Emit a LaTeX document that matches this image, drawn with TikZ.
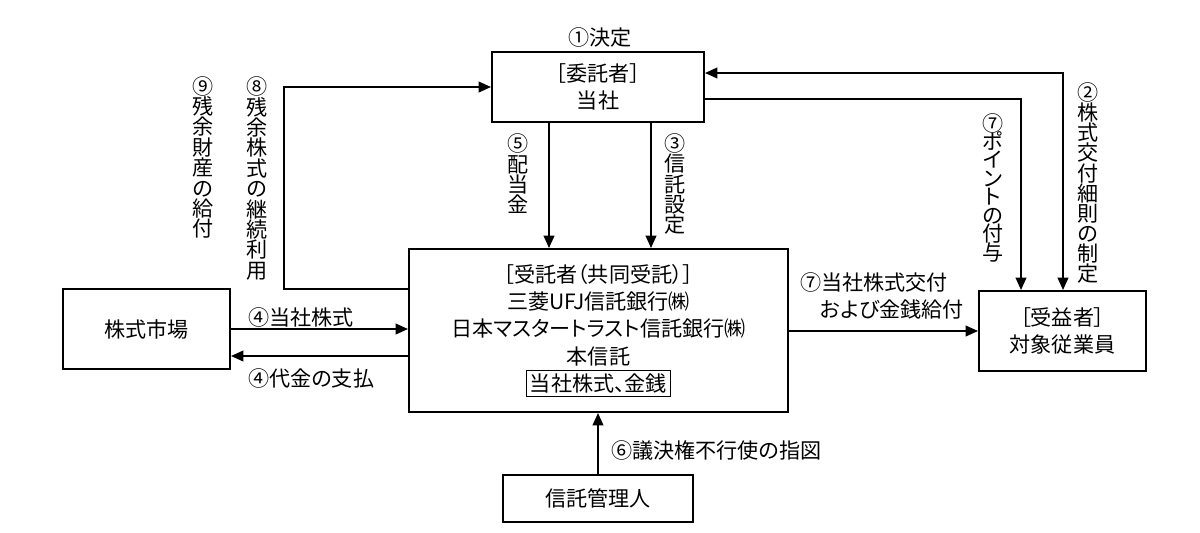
\documentclass[tikz,border=0pt]{standalone}
\usepackage{fontspec}
\setmainfont{Noto Sans CJK JP}[RawFeature=+palt]
\usetikzlibrary{arrows.meta, calc, positioning}
\newcommand{\pxu}{0.02cm}
\setlength{\fboxsep}{1.5pt}
\setlength{\fboxrule}{0.6pt}
\setlength{\lineskiplimit}{-20pt}
\tikzset{
  box/.style={draw, line width=1.1pt, rectangle, align=center, inner sep=0pt,
    font=\fontsize{12pt}{15.6pt}\selectfont},
  arr/.style={line width=1.1pt, -{Triangle[length=7pt, width=6pt]}},
  arrboth/.style={line width=1.1pt, {Triangle[length=7pt, width=6pt]}-{Triangle[length=7pt, width=6pt]}},
  lbl/.style={inner sep=0pt, font=\fontsize{12pt}{15.3pt}\selectfont},
  vlbl/.style={inner sep=0pt, align=center, font=\fontsize{12pt}{11.6pt}\selectfont},
}

\begin{document}
\begin{tikzpicture}[x=0.02cm, y=-0.02cm]
  \useasboundingbox (0,0) rectangle (1200,532);
  \node[box, minimum width=212*\pxu, minimum height=70*\pxu] (itaku) at (598,87) {［委託者］\\当社};
  \node[box, minimum width=379*\pxu, minimum height=163*\pxu] (jutaku) at (598.5,330.5) {［受託者（共同受託）］\\三菱UFJ信託銀行㈱\\日本マスタートラスト信託銀行㈱\\本信託\\\fbox{当社株式、金銭}};
  \node[box, minimum width=167*\pxu, minimum height=80*\pxu] (shijo) at (146.5,329) {株式市場};
  \node[box, minimum width=167*\pxu, minimum height=80*\pxu] (jueki) at (1062.5,331) {［受益者］\\対象従業員};
  \node[box, minimum width=190*\pxu, minimum height=47*\pxu] (kanri) at (598,498.5) {信託管理人};

  \node[lbl] (l1) at (600,37) {①決定};
  \node[lbl, anchor=west] (l4a) at (248,317) {④当社株式};
  \node[lbl, anchor=west] (l4b) at (248,378) {④代金の支払};
  \node[lbl, anchor=west, align=left] (l7b) at (800,295.5) {⑦当社株式交付\\\hspace{0.95em}および金銭給付};
  \node[lbl, anchor=west] (l6) at (611,450) {⑥議決権不行使の指図};
  \node[vlbl] (l5) at (518,174) {⑤\\配\\当\\金};
  \node[vlbl] (l3) at (675,184) {③\\信\\託\\設\\定};
  \node[vlbl] (l9) at (203,157.5) {⑨\\残\\余\\財\\産\\の\\給\\付};
  \node[vlbl] (l8) at (257,178.5) {⑧\\残\\余\\株\\式\\の\\継\\続\\利\\用};
  \node[vlbl, font=\fontsize{12pt}{10.5pt}\selectfont] (l7a) at (993,187.5) {⑦\\ポ\\イ\\ン\\ト\\の\\付\\与};
  \node[vlbl, font=\fontsize{12pt}{11.4pt}\selectfont] (l2) at (1088,183) {②\\株\\式\\交\\付\\細\\則\\の\\制\\定};

  \coordinate (k8) at (284,289);
  \draw[arr] (jutaku.west |- k8) -- (k8) |- (itaku.west);
  \coordinate (k5) at ($(itaku.south)+(-49,0)$);
  \draw[arr] (k5) -- (k5 |- jutaku.north);
  \coordinate (k3) at ($(itaku.south)+(53,0)$);
  \draw[arr] (k3) -- (k3 |- jutaku.north);
  \coordinate (k2) at ($(jueki.north)+(0.5,0)$);
  \draw[arrboth] (k2) |- ($(itaku.east)+(0,-14)$);
  \coordinate (k7) at ($(itaku.east)+(0,12)$);
  \draw[arr] (k7) -| ($(jueki.north)+(-41.5,0)$);
  \draw[arr] (shijo.east) -- (shijo.east -| jutaku.west);
  \coordinate (k4) at ($(shijo.east)+(0,27)$);
  \draw[arr] (k4 -| jutaku.west) -- (k4);
  \draw[arr] (jutaku.east |- jueki.west) -- (jueki.west);
  \draw[arr] (kanri.north) -- (kanri.north |- jutaku.south);
\end{tikzpicture}
\end{document}
